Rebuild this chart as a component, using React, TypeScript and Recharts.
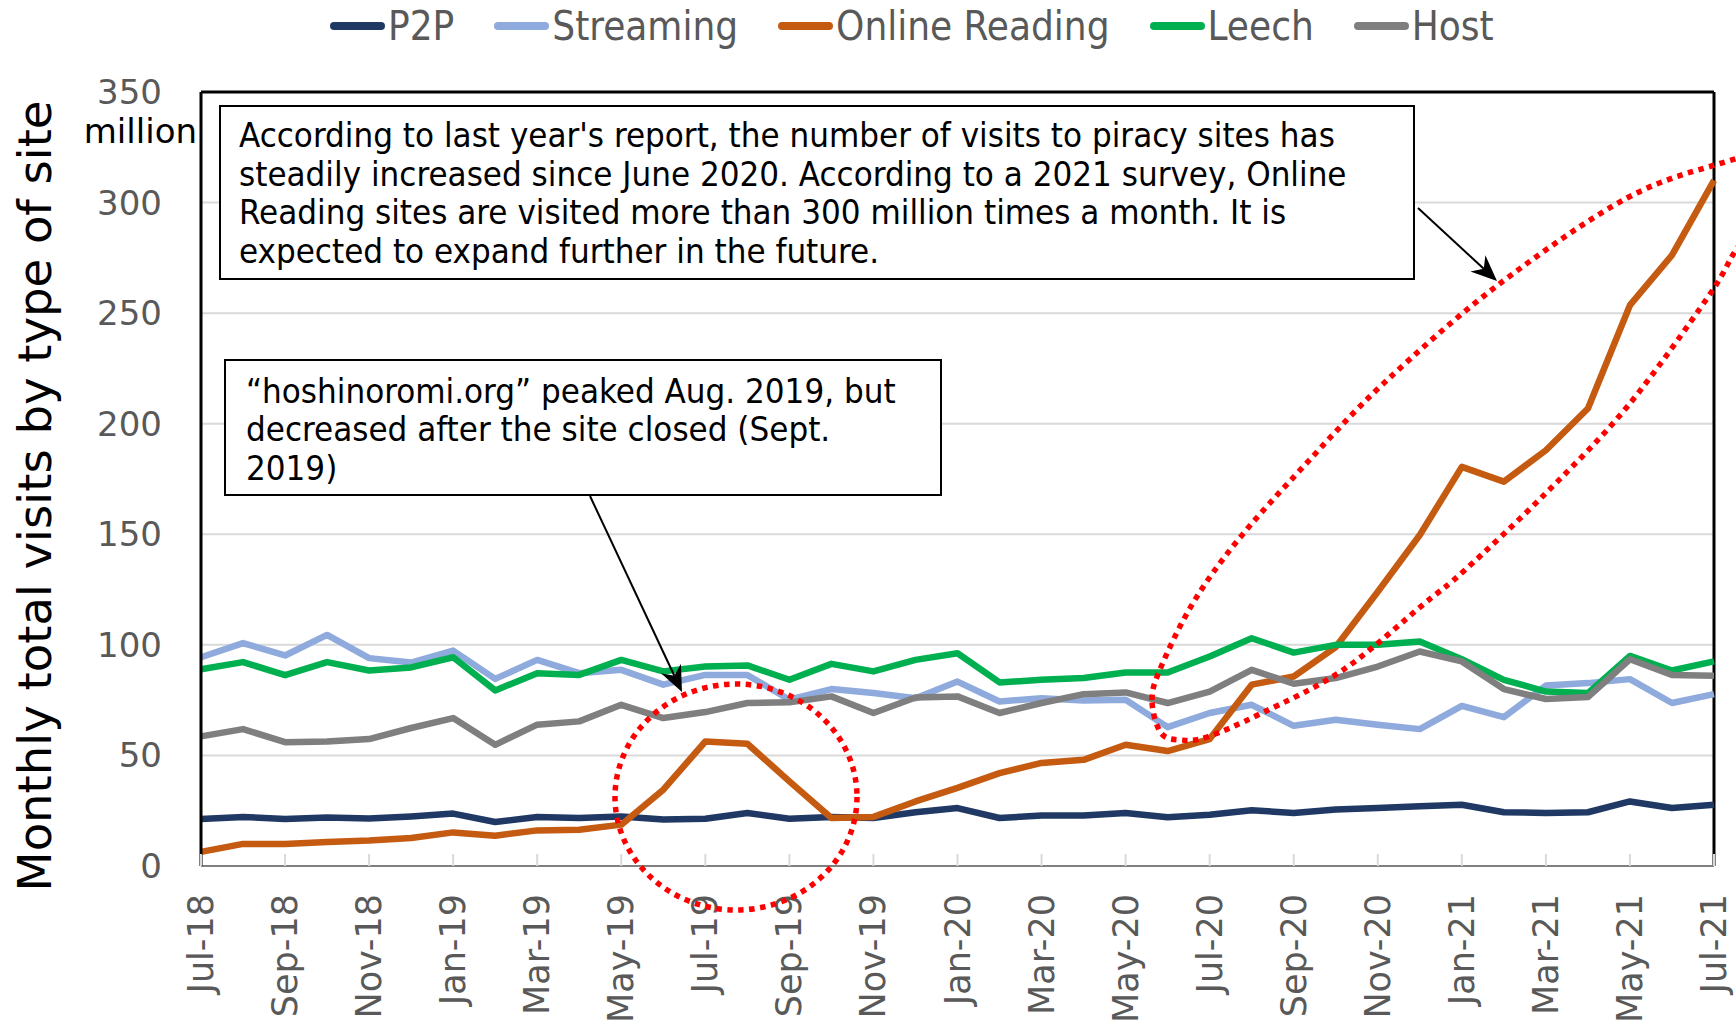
import React from 'react';
import { LineChart, Line, XAxis, YAxis, CartesianGrid, ReferenceLine } from 'recharts';

const months = ['Jul-18','Aug-18','Sep-18','Oct-18','Nov-18','Dec-18','Jan-19','Feb-19','Mar-19','Apr-19','May-19','Jun-19','Jul-19','Aug-19','Sep-19','Oct-19','Nov-19','Dec-19','Jan-20','Feb-20','Mar-20','Apr-20','May-20','Jun-20','Jul-20','Aug-20','Sep-20','Oct-20','Nov-20','Dec-20','Jan-21','Feb-21','Mar-21','Apr-21','May-21','Jun-21','Jul-21'];

const p2p = [21.3,22.2,21.3,21.9,21.5,22.4,23.7,19.9,22.2,21.7,22.4,21,21.4,24,21.4,22.2,21.7,24.3,26.2,21.7,22.8,22.8,24,22,23.2,25.2,24,25.5,26.2,27,27.7,24.3,24,24.3,29.2,26.2,27.7];
const streaming = [94.4,100.8,95.2,104.5,94,92,97.4,84.6,93.2,87.2,88.7,82,86.4,86.4,75.2,80,78.2,75.9,83.4,74.4,75.9,74.8,75.2,62.8,69.2,72.9,63.4,66.1,63.9,61.9,72.4,67.3,81.6,82.7,84.5,73.7,77.7];
const onlineReading = [6.4,10,10,10.9,11.5,12.7,15.2,13.7,16.1,16.4,18.7,34.5,56.3,55.3,38.3,21.7,22.2,29.2,35.3,42,46.6,48,54.8,52,57.4,82,85.7,99,124,149.7,180.5,173.8,188,206.9,253.6,276.2,310];
const leech = [89,92.2,86.3,92.2,88.4,89.8,94.4,79.4,87.2,86.4,93.2,88,90.2,90.7,84.2,91.4,88,93.2,96.2,83,84.2,85,87.5,87.5,94.7,103,96.5,100,100,101.5,93.5,84.2,78.9,78.2,95,88.4,92.5];
const host = [58.6,61.9,56,56.3,57.4,62.4,66.9,54.8,63.9,65.4,72.9,66.9,69.6,73.7,74,76.7,69.2,76.2,76.7,69.2,73.7,77.7,78.5,73.7,78.9,88.7,82.4,85,90.2,97,92.5,80,75.5,76.4,93.5,86.4,86];

const yTicks = [0, 50, 100, 150, 200, 250, 300, 350];

const seriesNames = ['P2P', 'Streaming', 'Online Reading', 'Leech', 'Host'];
const seriesColors = ['#203864', '#8FAADC', '#C55A11', '#00B050', '#7F7F7F'];
const seriesValues = [p2p, streaming, onlineReading, leech, host];

const data = months.map((m, i) => {
  const row: Record<string, any> = { month: m };
  seriesNames.forEach((n, k) => { row[n] = seriesValues[k][i]; });
  return row;
});

const note1 = [
  "According to last year's report, the number of visits to piracy sites has",
  'steadily increased since June 2020. According to a 2021 survey, Online',
  'Reading sites are visited more than 300 million times a month. It is',
  'expected to expand further in the future.',
];
const note2 = [
  '\u201choshinoromi.org\u201d peaked Aug. 2019, but',
  'decreased after the site closed (Sept.',
  '2019)',
];

const condensed = "'DejaVu Sans Condensed', 'Liberation Sans Narrow', sans-serif";

const XTick = (props: any) => {
  const { x, y, payload } = props;
  const ty = y + 28;
  return (
    <g>
      <line x1={x} y1={y} x2={x} y2={y - 12} stroke="#d9d9d9" strokeWidth={2} />
      <text
        x={x}
        y={ty}
        transform={`rotate(-90 ${x} ${ty})`}
        textAnchor="end"
        dominantBaseline="central"
        fill="#595959"
        fontSize={35}
        fontFamily="DejaVu Sans"
      >
        {payload.value}
      </text>
    </g>
  );
};

function closedSpline(pts: number[][]) {
  const n = pts.length;
  let d = `M${pts[0][0]},${pts[0][1]}`;
  for (let i = 0; i < n; i++) {
    const p0 = pts[(i - 1 + n) % n], p1 = pts[i], p2 = pts[(i + 1) % n], p3 = pts[(i + 2) % n];
    const c1 = [p1[0] + (p2[0] - p0[0]) / 6, p1[1] + (p2[1] - p0[1]) / 6];
    const c2 = [p2[0] - (p3[0] - p1[0]) / 6, p2[1] - (p3[1] - p1[1]) / 6];
    d += ` C${c1[0]},${c1[1]} ${c2[0]},${c2[1]} ${p2[0]},${p2[1]}`;
  }
  return d + 'Z';
}

function Arrow({ x1, y1, x2, y2 }: { x1: number; y1: number; x2: number; y2: number }) {
  const dx = x2 - x1, dy = y2 - y1, len = Math.hypot(dx, dy);
  const ux = dx / len, uy = dy / len, px = -uy, py = ux;
  const L = 26, W = 11, N = 8;
  const bx = x2 - ux * L, by = y2 - uy * L;
  const nx = x2 - ux * (L - N), ny = y2 - uy * (L - N);
  return (
    <g>
      <line x1={x1} y1={y1} x2={nx} y2={ny} stroke="#000" strokeWidth={2} />
      <polygon points={`${x2},${y2} ${bx + px * W},${by + py * W} ${nx},${ny} ${bx - px * W},${by - py * W}`} fill="#000" />
    </g>
  );
}

const bigEllipse = [
  [1152, 700], [1161, 667], [1193, 603], [1238, 540], [1303, 467], [1384, 383], [1498, 285], [1627, 198],
  [1725, 162], [1770, 153], [1800, 165], [1792, 190], [1763, 215], [1736, 250], [1708, 297], [1627, 407],
  [1546, 493], [1465, 570], [1425, 603], [1343, 670], [1262, 713], [1207, 737], [1181, 740], [1161, 733],
];

export default function App() {
  return (
    <div style={{ position: 'relative', width: 1736, height: 1027, background: '#fff' }}>
      <style>{'body{margin:0}'}</style>
      <div
        style={{
          position: 'absolute', top: 0, left: 0, width: 1736, height: 52,
          display: 'flex', alignItems: 'center', paddingLeft: 330, boxSizing: 'border-box',
        }}
      >
        {seriesNames.map((n, k) => (
          <div key={n} style={{ display: 'flex', alignItems: 'center', marginRight: 40 }}>
            <span style={{ display: 'inline-block', width: 55, height: 8, borderRadius: 4, background: seriesColors[k], marginRight: 3 }} />
            <span style={{ fontFamily: condensed, fontStretch: 'condensed', fontSize: 40, color: '#595959', lineHeight: '52px' }}>{n}</span>
          </div>
        ))}
      </div>
      <LineChart width={1736} height={1027} data={data} margin={{ top: 92, right: 22, bottom: 0, left: 0 }}>
        <CartesianGrid vertical={false} stroke="#d9d9d9" strokeWidth={2} />
        <XAxis
          dataKey="month"
          interval={1}
          height={161}
          tickLine={false}
          tickSize={0}
          tickMargin={0}
          axisLine={{ stroke: '#808080', strokeWidth: 2 }}
          tick={<XTick />}
        />
        <YAxis
          domain={[0, 350]}
          ticks={yTicks}
          width={201}
          tickLine={false}
          tickSize={0}
          tickMargin={39}
          axisLine={{ stroke: '#000', strokeWidth: 3 }}
          tick={{ fill: '#595959', fontSize: 34, fontFamily: 'DejaVu Sans' }}
        />
        <ReferenceLine y={350} stroke="#000" strokeWidth={3} />
        <ReferenceLine x="Jul-21" stroke="#000" strokeWidth={3} />
        {seriesNames.map((n, k) => (
          <Line
            key={n}
            type="linear"
            dataKey={n}
            stroke={seriesColors[k]}
            strokeWidth={6.5}
            strokeLinejoin="round"
            dot={false}
            activeDot={false}
            isAnimationActive={false}
          />
        ))}
      </LineChart>
      <svg width={1736} height={1027} style={{ position: 'absolute', top: 0, left: 0, pointerEvents: 'none' }}>
        <text x={35} y={496} transform="rotate(-90 35 496)" textAnchor="middle" dominantBaseline="central" fontSize={46.5} fontFamily="DejaVu Sans" fill="#000">
          Monthly total visits by type of site
        </text>
        <text x={197} y={131} textAnchor="end" dominantBaseline="central" fontSize={34} fontFamily="DejaVu Sans" fill="#000">million</text>

        <rect x={220} y={106} width={1194} height={173} fill="#fff" stroke="#000" strokeWidth={2} />
        {note1.map((t, i) => (
          <text key={i} x={239} y={135 + i * 38.7} dominantBaseline="central" fontSize={34.6} fontFamily={condensed} style={{ fontStretch: 'condensed' }} fill="#000">{t}</text>
        ))}
        <rect x={225} y={360} width={716} height={135} fill="#fff" stroke="#000" strokeWidth={2} />
        {note2.map((t, i) => (
          <text key={i} x={246} y={391 + i * 38.3} dominantBaseline="central" fontSize={34.6} fontFamily={condensed} style={{ fontStretch: 'condensed' }} fill="#000">{t}</text>
        ))}

        <Arrow x1={1418} y1={208} x2={1497} y2={281} />
        <Arrow x1={590} y1={496} x2={682} y2={692} />

        <ellipse cx={736} cy={797} rx={121} ry={113} fill="none" stroke="#FF0000" strokeWidth={5.5} strokeDasharray="5.5 5.5" />
        <path d={closedSpline(bigEllipse)} fill="none" stroke="#FF0000" strokeWidth={5.5} strokeDasharray="5.5 5.5" />
      </svg>
    </div>
  );
}
